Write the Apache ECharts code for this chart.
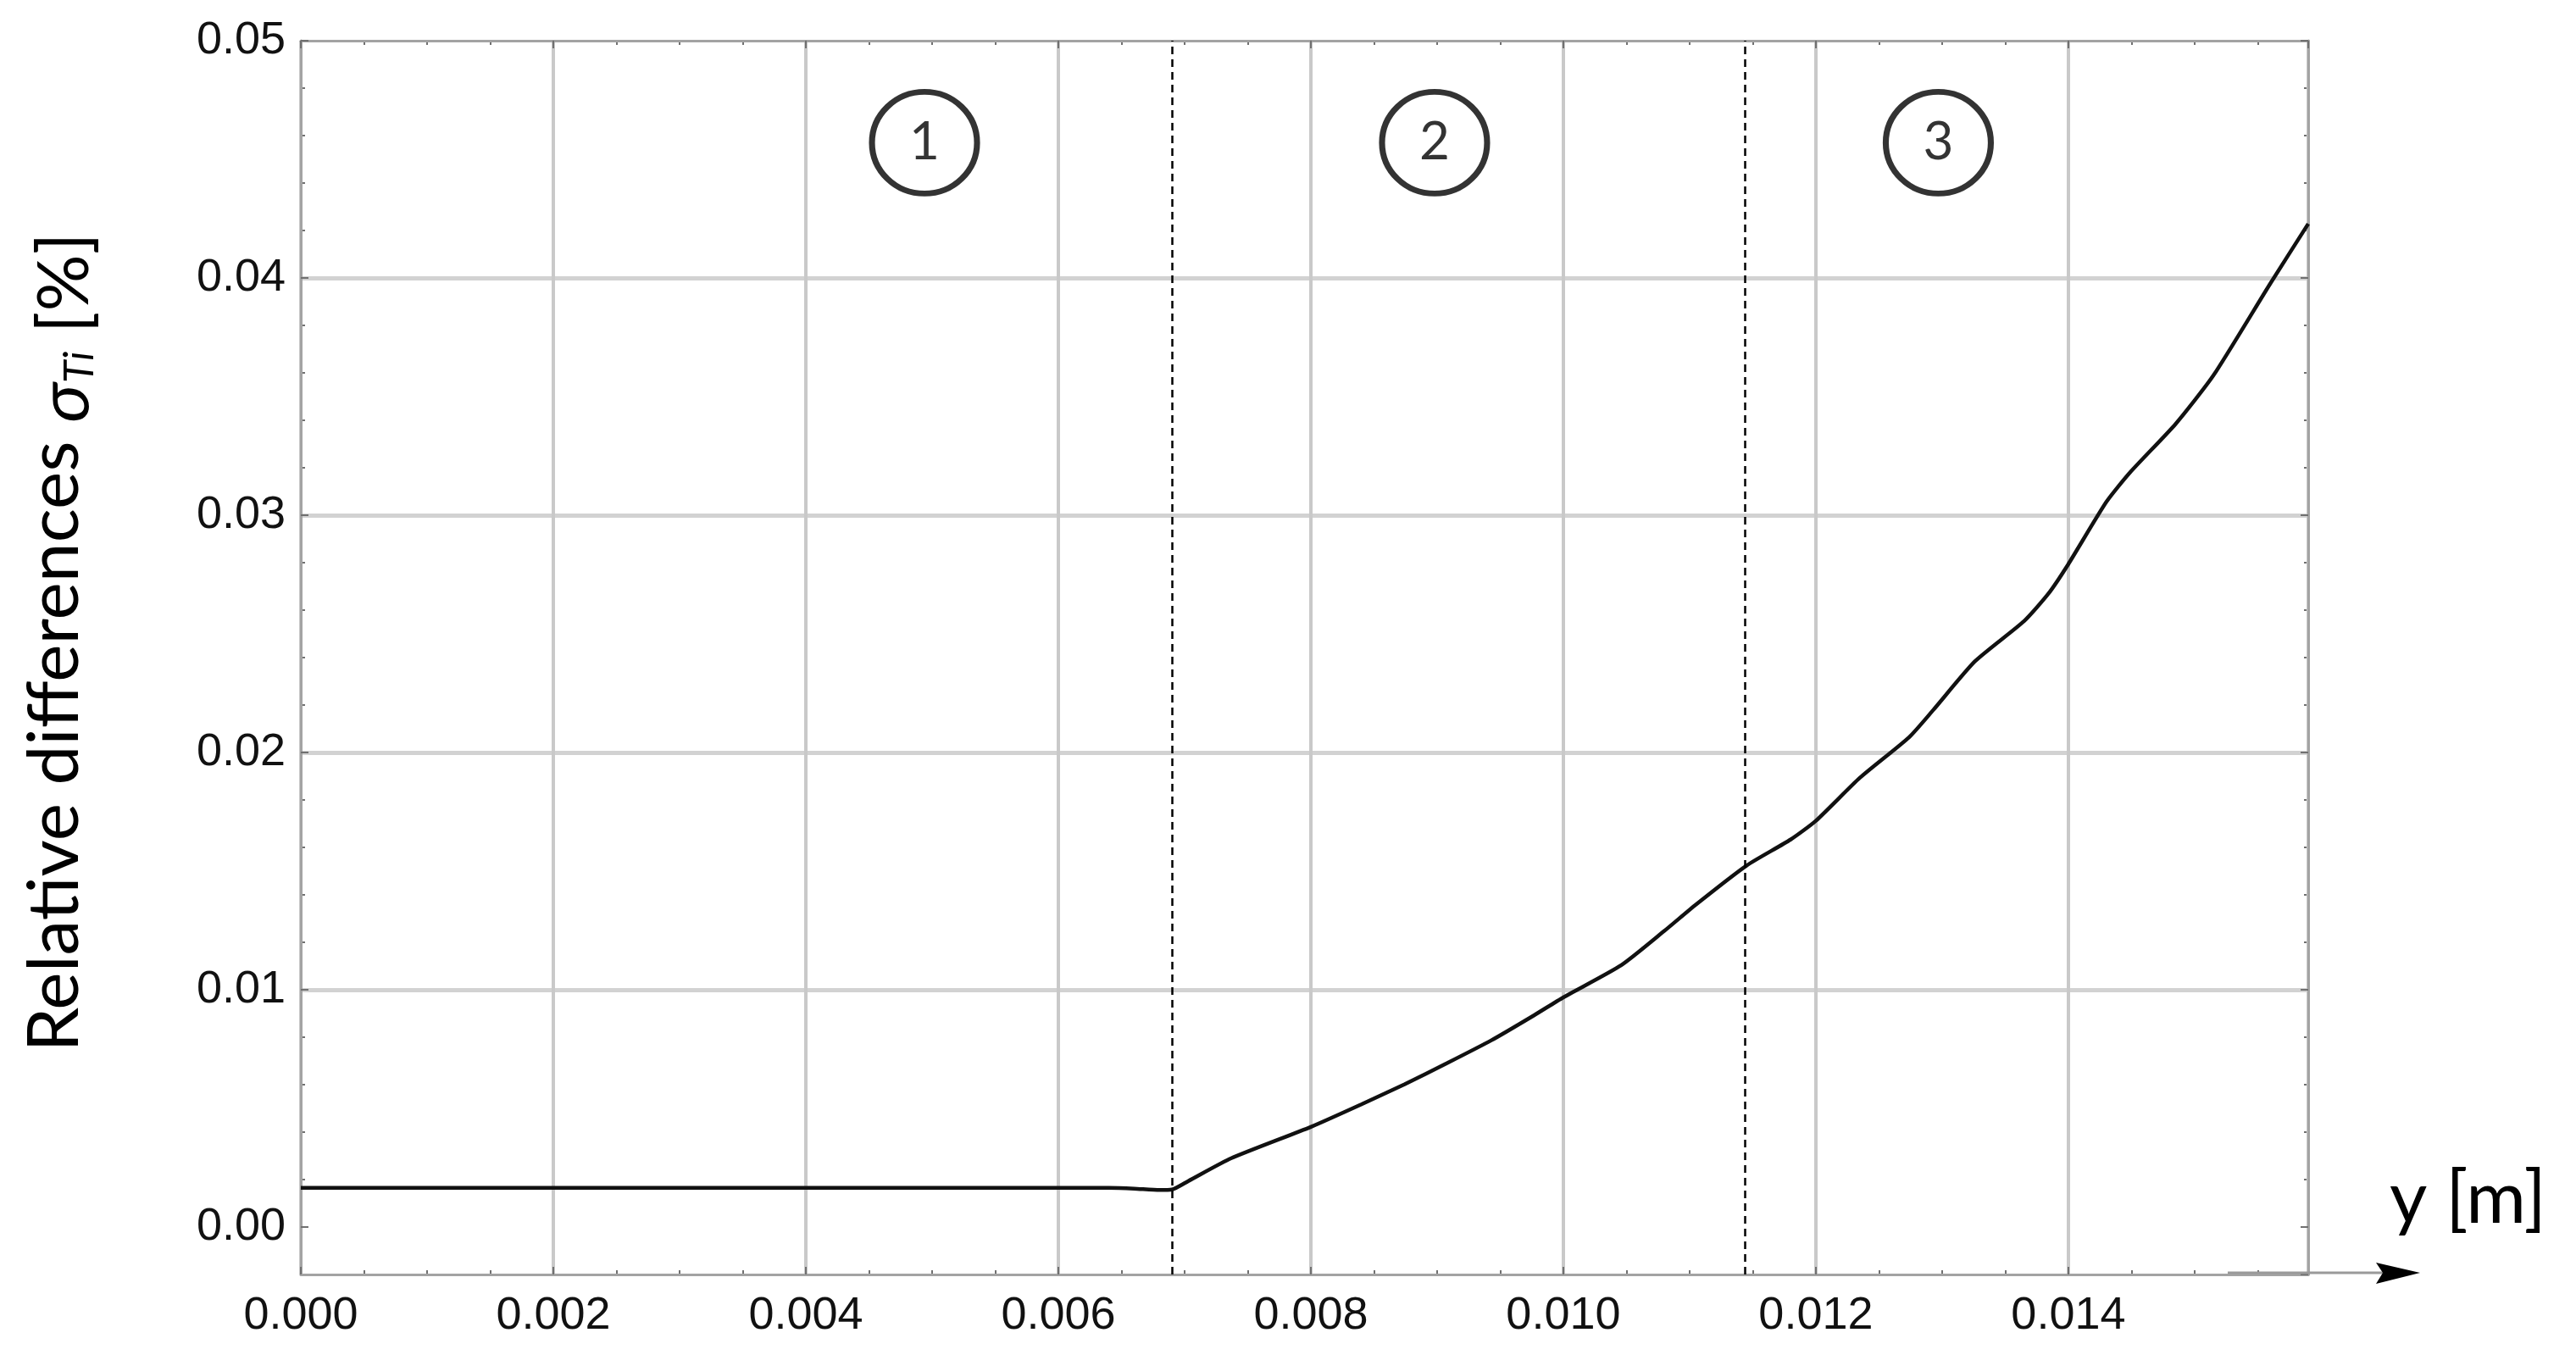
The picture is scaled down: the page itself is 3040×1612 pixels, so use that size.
<!DOCTYPE html>
<html>
<head>
<meta charset="utf-8">
<script src="https://cdn.jsdelivr.net/npm/echarts@6/dist/echarts.min.js"></script>
<style>
html,body{margin:0;padding:0;background:#ffffff;}
#chart{width:3040px;height:1612px;}
</style>
</head>
<body>
<div id="chart"></div>
<script>
// ---- data ----
const xValues = [0, 0.001, 0.002, 0.003, 0.004, 0.005, 0.006, 0.0064, 0.0066, 0.0068, 0.0069,
  0.00703, 0.00737, 0.0080, 0.0084, 0.00874, 0.00908, 0.00943, 0.00977, 0.0100, 0.01046, 0.0108,
  0.01105, 0.01145, 0.0118, 0.0120, 0.01235, 0.01274, 0.01293, 0.01326, 0.01365, 0.01384,
  0.0140, 0.0143, 0.01449, 0.01485, 0.01515, 0.0156, 0.0159];
const yValues = [0.00165, 0.00165, 0.00165, 0.00165, 0.00165, 0.00165, 0.00165, 0.00165, 0.00162, 0.00156, 0.00158,
  0.00194, 0.0029, 0.00422, 0.00517, 0.00601, 0.00691, 0.00787, 0.00893, 0.00968, 0.01104, 0.01248,
  0.01359, 0.01523, 0.01633, 0.01712, 0.01894, 0.02065, 0.02179, 0.02384, 0.02554, 0.02668,
  0.02794, 0.03055, 0.03181, 0.03385, 0.0359, 0.03977, 0.04228];

const xMin = 0, xMax = 0.0159, xMajor = 0.002, xMinorStep = 0.0005;
const yMin = -0.002, yMax = 0.05, yMinorStep = 0.002;
const yGridValues = [0.01, 0.02, 0.03, 0.04];
const regionBoundaries = [0.0069, 0.01144];
const regionLabelX = [0.00494, 0.00898, 0.01297];
const regionLabelY = [0.0457, 0.0457, 0.0457];
const regionLabels = ['1', '2', '3'];
const xAxisTitle = 'y [m]';

const chart = echarts.init(document.getElementById('chart'), null, {renderer: 'canvas'});

const gridRect = {left: 355, right: 316, top: 48, bottom: 108};
const frameColor = '#a3a3a3';
const tickColor = '#707070';
const labelFont = 'Liberation Sans';
const titleFont = 'Lato';

function majorX(pos, show) {
  return {
    type: 'value', gridIndex: 0, position: pos, min: xMin, max: xMax, interval: xMajor,
    name: show ? xAxisTitle : '',
    nameLocation: 'end', nameGap: 96,
    nameTextStyle: {fontFamily: titleFont, fontSize: 86, color: '#000', verticalAlign: 'bottom', padding: [0, 0, 46, 0]},
    axisLine: {show: true, onZero: false, lineStyle: {color: frameColor, width: 3}},
    axisTick: {show: true, inside: true, length: 9, lineStyle: {color: tickColor, width: 2}},
    axisLabel: {show: show, showMaxLabel: false, margin: 22, fontFamily: labelFont, fontSize: 54, color: '#111',
      formatter: v => v.toFixed(3)},
    splitLine: {show: show, lineStyle: {color: '#c9c9c9', width: 4}},
    z: 3
  };
}
function minorX(pos) {
  return {
    type: 'value', gridIndex: 1, position: pos, min: xMin, max: xMax, interval: xMinorStep,
    axisLine: {show: false, onZero: false},
    axisTick: {show: true, inside: true, length: 5, lineStyle: {color: tickColor, width: 2}},
    axisLabel: {show: false}, splitLine: {show: false}
  };
}
function majorY(pos, show) {
  return {
    type: 'value', gridIndex: 0, position: pos, min: yMin, max: yMax, splitNumber: 5,
    name: show ? 'Relative differences {s|σ}{sub|Ti}{a| [%]}' : '',
    nameLocation: 'middle', nameGap: 236, nameRotate: 90,
    nameTextStyle: {
      fontFamily: titleFont, fontSize: 84, color: '#000', padding: [0, 0, 0, 36],
      rich: {
        a: {fontFamily: titleFont, fontSize: 84, color: '#000', lineHeight: 108, verticalAlign: 'bottom'},
        s: {fontFamily: titleFont, fontSize: 84, color: '#000', fontStyle: 'italic', lineHeight: 108, verticalAlign: 'bottom'},
        sub: {fontFamily: titleFont, fontSize: 48, color: '#000', fontStyle: 'italic', lineHeight: 52, verticalAlign: 'bottom'}
      }
    },
    axisLine: {show: true, onZero: false, lineStyle: {color: frameColor, width: 3}},
    axisTick: {show: true, inside: true, length: 9, lineStyle: {color: tickColor, width: 2}},
    axisLabel: {show: show, showMinLabel: false, margin: 18, fontFamily: labelFont, fontSize: 54, color: '#111',
      formatter: v => v.toFixed(2)},
    splitLine: {show: false},
    z: 3
  };
}
function minorY(pos) {
  return {
    type: 'value', gridIndex: 1, position: pos, min: yMin, max: yMax, interval: yMinorStep,
    axisLine: {show: false, onZero: false},
    axisTick: {show: true, inside: true, length: 5, lineStyle: {color: tickColor, width: 2}},
    axisLabel: {show: false}, splitLine: {show: false}
  };
}

const curveData = xValues.map((x, i) => [x, yValues[i]]);

chart.setOption({
  backgroundColor: '#ffffff',
  animation: false,
  grid: [Object.assign({}, gridRect), Object.assign({}, gridRect)],
  xAxis: [majorX('bottom', true), majorX('top', false), minorX('bottom'), minorX('top')],
  yAxis: [majorY('left', true), majorY('right', false), minorY('left'), minorY('right')],
  series: [
    {
      type: 'line', xAxisIndex: 0, yAxisIndex: 0, data: [], silent: true, z: 1,
      markLine: {
        silent: true, z: 1, symbol: ['none', 'none'], label: {show: false}, precision: 6,
        lineStyle: {color: '#d2d2d2', width: 5, type: 'solid'},
        data: yGridValues.map(v => ({yAxis: v}))
      }
    },
    {
      type: 'line', xAxisIndex: 0, yAxisIndex: 0, data: curveData, showSymbol: false,
      smooth: 0.2,
      lineStyle: {color: '#111111', width: 4.5}, z: 4,
      markLine: {
        silent: true, z: 5, symbol: ['none', 'none'], label: {show: false}, precision: 6,
        lineStyle: {color: '#000000', width: 2.5, type: [9, 6]},
        data: regionBoundaries.map(v => ({xAxis: v}))
      }
    },
    {
      type: 'scatter', xAxisIndex: 0, yAxisIndex: 0, z: 6,
      symbol: 'circle', symbolSize: [124, 120],
      itemStyle: {color: '#ffffff', borderColor: '#000000', borderWidth: 7},
      label: {show: true, position: 'inside', formatter: p => p.name, fontFamily: titleFont, fontSize: 62, color: '#000'},
      data: regionLabelX.map((x, i) => ({name: regionLabels[i], value: [x, regionLabelY[i]]}))
    }
  ]
});

// arrow extending the horizontal axis beyond the frame
const end = chart.convertToPixel({xAxisIndex: 0, yAxisIndex: 0}, [xMax, yMin]);
const ex = end[0], ey = end[1];
chart.setOption({
  graphic: [
    {type: 'line', shape: {x1: ex - 95, y1: ey - 2, x2: ex + 90, y2: ey - 2}, style: {stroke: '#9a9a9a', lineWidth: 3}, z: 10},
    {type: 'polygon', shape: {points: [[ex + 80, ey - 14], [ex + 132, ey - 2], [ex + 80, ey + 11], [ex + 88, ey - 2]]},
      style: {fill: '#000000'}, z: 11}
  ]
});
</script>
</body>
</html>
